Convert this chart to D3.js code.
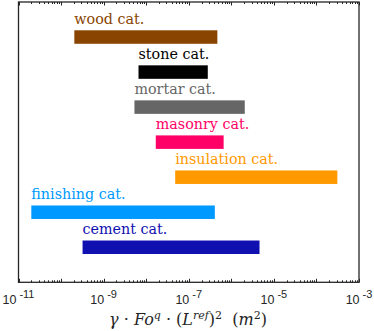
<!DOCTYPE html>
<html>
<head>
<meta charset="utf-8">
<script src="https://cdn.jsdelivr.net/npm/d3@7"></script>
<style>
  body { margin: 0; background: #fff; }
  svg { display: block; }
  .cat { font-family: "DejaVu Serif", serif; font-size: 14.3px; }
  .tick { font-family: "Liberation Sans", Arial, sans-serif; font-size: 12.5px; fill: #262626; }
  .xtitle { font-family: "DejaVu Serif", serif; font-size: 16px; fill: #262626; }
</style>
</head>
<body>
<svg width="374" height="331"></svg>
<script>
// categories, top to bottom
const categories = ["wood cat.", "stone cat.", "mortar cat.", "masonry cat.", "insulation cat.", "finishing cat.", "cement cat."];
const lowValues  = [2.05e-10, 6.6e-9, 5.3e-9, 1.68e-8, 4.8e-8, 2.0e-11, 3.2e-10];
const highValues = [4.7e-7, 2.8e-7, 2.07e-6, 6.6e-7, 3.1e-4, 4.1e-7, 4.6e-6];
const colors = ["#884400", "#000000", "#666666", "#ff0066", "#ff9900", "#0099ff", "#1010b0"];
const tickExponents = [-11, -9, -7, -5, -3];

const svg = d3.select("svg");
const pLeft = 18.5, pRight = 359, pTop = 2, pBottom = 282.3;

const x = d3.scaleLog().domain([1e-11, 1e-3]).range([pLeft, pRight]);
const y = d3.scaleLinear().domain([0, 8]).range([pTop, pBottom]);
const barH = y(0.385) - y(0);

const data = categories.map((c, i) => ({ name: c, lo: lowValues[i], hi: highValues[i], color: colors[i], pos: i + 1 }));

svg.selectAll("rect.bar")
    .data(data)
    .enter()
    .append("rect")
    .attr("class", "bar")
    .attr("x", d => x(d.lo))
    .attr("width", d => x(d.hi) - x(d.lo))
    .attr("y", d => y(d.pos) - barH / 2)
    .attr("height", barH)
    .attr("fill", d => d.color);

svg.selectAll("text.cat")
    .data(data)
    .enter()
    .append("text")
    .attr("class", "cat")
    .attr("x", d => x(d.lo))
    .attr("y", d => y(d.pos) - barH / 2 - 6.5)
    .attr("fill", d => d.color)
    .text(d => d.name);

// ticks, top and bottom, pointing inward
const g = svg.append("g").attr("stroke", "#262626").attr("stroke-width", 1);
for (let e = -11; e <= -3; e++) {
    for (let m = 1; m < 10; m++) {
        if (e === -3 && m > 1) break;
        const v = m * Math.pow(10, e);
        const xx = Math.round(x(v)) + 0.5;
        const len = m === 1 ? 3.5 : 2;
        g.append("line").attr("x1", xx).attr("x2", xx).attr("y1", pBottom).attr("y2", pBottom - len);
        g.append("line").attr("x1", xx).attr("x2", xx).attr("y1", pTop).attr("y2", pTop + len);
    }
}

svg.append("rect")
    .attr("x", pLeft)
    .attr("y", pTop)
    .attr("width", pRight - pLeft)
    .attr("height", pBottom - pTop)
    .attr("fill", "none")
    .attr("stroke", "#262626")
    .attr("stroke-width", 1.3);

// tick labels
const tl = svg.selectAll("text.tick")
    .data(tickExponents)
    .enter()
    .append("text")
    .attr("class", "tick")
    .attr("x", d => x(Math.pow(10, d)))
    .attr("y", 303.5)
    .attr("text-anchor", "middle");
tl.append("tspan").text("10");
tl.append("tspan").attr("dy", -5.5).attr("font-size", "11px").attr("dx", 3).text(d => d);

// axis title
const t = svg.append("text")
    .attr("class", "xtitle")
    .attr("x", 188)
    .attr("y", 325)
    .attr("text-anchor", "middle");
t.append("tspan").attr("font-style", "italic").text("γ");
t.append("tspan").text(" · ");
t.append("tspan").attr("font-style", "italic").text("Fo");
t.append("tspan").attr("font-style", "italic").attr("font-size", "11px").attr("dy", -6.5).text("q");
t.append("tspan").attr("dy", 6.5).text(" · (");
t.append("tspan").attr("font-style", "italic").text("L");
t.append("tspan").attr("font-style", "italic").attr("font-size", "11px").attr("dy", -6.5).text("ref");
t.append("tspan").attr("dy", 6.5).text(")");
t.append("tspan").attr("font-size", "11px").attr("dy", -6.5).text("2");
t.append("tspan").attr("dy", 6.5).attr("xml:space", "preserve").text("\u00a0\u00a0(");
t.append("tspan").attr("font-style", "italic").text("m");
t.append("tspan").attr("font-size", "11px").attr("dy", -6.5).text("2");
t.append("tspan").attr("dy", 6.5).text(")");
</script>
</body>
</html>
